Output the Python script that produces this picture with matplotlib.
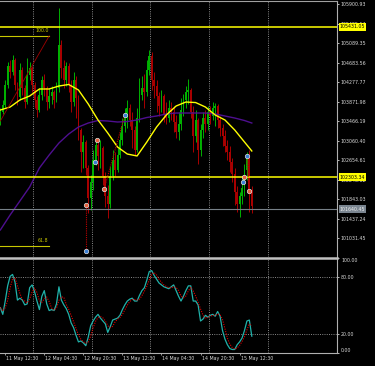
import numpy as np
import pandas as pd
import matplotlib
matplotlib.use('Agg')
import matplotlib.pyplot as plt
import matplotlib.transforms as mtransforms

# H1 candles, first one is 11 May 10:30
first_open = 103493
closes = [103659, 103805, 104221, 104617, 104492, 104741, 104221, 103971, 104533, 104159,
          103867, 104429, 104575, 104221, 103909, 103701, 104013, 104325, 104159, 103867,
          103992, 104076, 103909, 104159, 105054, 104575, 104325, 104617, 104221, 103867,
          104325, 103951, 103285, 102827, 103035, 102494, 101870, 102203, 102660, 102972,
          102744, 102910, 102327, 101911, 101745, 102327, 102660, 102452, 102764, 103077,
          103368, 103534, 103743, 103493, 103285, 102868, 103534, 104013, 104159, 104076,
          104533, 104825, 104325, 104200, 103992, 103784, 103992, 103618, 103534, 103743,
          103659, 103451, 103243, 103410, 103701, 103909, 104076, 104117, 103659, 103160,
          103493, 102868, 103285, 103534, 103410, 103659, 103576, 103743, 103784, 103493,
          103326, 103160, 102952, 102827, 102619, 102369, 101994, 101745, 101911, 102078,
          102452, 102744, 102036, 101703]
highs = [103743, 103909, 104325, 104700, 104741, 104845, 104783, 104284, 104679, 104596,
         104221, 104783, 104700, 104617, 104284, 103992, 104159, 104408, 104450, 104200,
         104159, 104200, 104117, 104284, 105823, 105158, 104741, 104700, 104679, 104325,
         104492, 104408, 104013, 103326, 103181, 103077, 102556, 102348, 102868, 103118,
         103077, 103077, 102952, 102411, 102140, 102536, 102868, 102827, 102910, 103243,
         103534, 103743, 103909, 103826, 103659, 103368, 103743, 104367, 104408, 104450,
         104741, 104950, 104908, 104492, 104325, 104076, 104117, 104034, 103867, 103909,
         103867, 103784, 103597, 103659, 103951, 104034, 104200, 104346, 104159, 103784,
         103701, 103534, 103410, 103659, 103701, 103784, 103784, 103867, 103847, 103826,
         103576, 103410, 103285, 103077, 102952, 102702, 102494, 102119, 101994, 102327,
         102577, 102827, 102868, 102119]
lows = [103389, 103618, 103763, 104159, 104367, 104429, 104117, 103805, 103909, 104013,
        103743, 103826, 104325, 104076, 103743, 103555, 103659, 103909, 103992, 103701,
        103743, 103826, 103743, 103867, 104076, 104367, 104159, 104200, 104076, 103659,
        103784, 103534, 103077, 102411, 102494, 102348, 101558, 101620, 102036, 102556,
        102452, 102494, 102140, 101682, 101453, 101662, 102244, 102327, 102411, 102702,
        102972, 103243, 103326, 103368, 102910, 102764, 102827, 103451, 103909, 103743,
        103992, 104429, 104117, 103951, 103659, 103576, 103659, 103451, 103410, 103451,
        103493, 103243, 103118, 103077, 103285, 103576, 103743, 103826, 103534, 102827,
        103035, 102577, 102744, 103118, 103243, 103285, 103410, 103493, 103368, 103326,
        103160, 102952, 102827, 102660, 102411, 102203, 101724, 101578, 101474, 101745,
        101911, 102244, 101578, 101558]

# moving averages, read every 4 bars
ma_idx = [0, 4, 8, 12, 16, 20, 24, 28, 32, 36, 40, 44, 48, 52, 56, 60, 64, 68, 72, 76,
          80, 84, 88, 92, 96, 100, 103]
ma_fast = [103701, 103763, 103909, 103992, 104138, 104138, 104200, 104232, 104117, 103826,
           103493, 103222, 102931, 102785, 102744, 103035, 103347, 103597, 103784, 103867,
           103856, 103763, 103597, 103493, 103285, 103035, 102848]
ma_slow = [101204, 101516, 101807, 102099, 102494, 102764, 103014, 103201, 103347, 103430,
           103482, 103472, 103451, 103461, 103493, 103545, 103576, 103618, 103638, 103638,
           103638, 103638, 103618, 103576, 103534, 103482, 103430]

# stochastic main line, one value per bar
stoch_main = [48, 41, 55, 71, 81, 83, 75, 56, 58, 56, 51, 52, 69, 72, 65, 55, 46, 60, 66, 52,
              45, 46, 45, 52, 70, 56, 51, 47, 41, 32, 27, 19, 12, 13, 11, 8, 17, 29, 34, 38,
              41, 37, 34, 31, 22, 28, 35, 36, 37, 40, 46, 51, 55, 57, 58, 55, 55, 61, 66, 69,
              77, 86, 87, 82, 78, 74, 72, 70, 69, 68, 70, 72, 66, 60, 55, 60, 66, 71, 71, 55,
              55, 51, 34, 36, 40, 38, 40, 41, 39, 44, 39, 24, 15, 9, 5, 4, 4, 9, 12, 16,
              24, 34, 35, 18]

price_ticks = [101031.45, 101437.24, 101843.03, 102248.82, 102654.61, 103060.40, 103466.19,
               103871.98, 104277.77, 104683.56, 105089.35, 105495.14, 105900.93]
time_idx = [-14, 2, 18, 34, 50, 66, 82, 98]
time_labels = ['10 May 20:30', '11 May 12:30', '12 May 04:30', '12 May 20:30',
               '13 May 12:30', '14 May 04:30', '14 May 20:30', '15 May 12:30']
day_lines = [13.5, 37.5, 61.5, 85.5, 109.5]

yellow_levels = [105431.05, 102303.34]
gray_level = 101640.45
fibo_levels = [105241, 100870]
fibo_names = ['100.0', '61.8']
fibo_trend = ([0, 20], [103472, 105241])

zz_x = [35.1, 35.1, 38.8, 39.6, 42.5, 51.0, 99.4, 99.8, 101.0, 101.8]
zz_y = [100767, 101724, 102619, 103077, 102057, 103597, 102203, 102307, 102744, 102015]
zz_col = ['b', 'r', 'b', 'r', 'r', 'b', 'b', 'r', 'b', 'r']
zz_links = [(0, 1), (4, 5), (8, 9)]

BULL = '#00b000'
BEAR = '#a80000'
FS = 3.4

fig = plt.figure(figsize=(3.75, 3.66), dpi=100, facecolor='black')
ax = fig.add_axes([0, 109 / 366, 337 / 375, 256 / 366], facecolor='black')
ax2 = fig.add_axes([0, 12.7 / 366, 337 / 375, 95 / 366], facecolor='black', sharex=ax)

ax.set_xlim(-0.14, 137.9)
ax.set_ylim(100642, 105969)
ax2.set_ylim(0, 100)

for a in (ax, ax2):
    for d in day_lines:
        a.axvline(d, color='#9a9a9a', lw=0.6, ls=(0, (1.2, 1.5)), zorder=1)
for lv in (80, 20):
    ax2.axhline(lv, color='#9a9a9a', lw=0.6, ls=(0, (1.2, 1.5)), zorder=1)

# candles
o = np.array([first_open] + closes[:-1], dtype=float)
c = np.array(closes, dtype=float)
h = np.array(highs, dtype=float)
l = np.array(lows, dtype=float)
idx = np.arange(len(c))
up = c >= o
for mask, col in ((up, BULL), (~up, BEAR)):
    ax.vlines(idx[mask], l[mask], h[mask], color=col, lw=0.7, zorder=2)
    ax.bar(idx[mask], c[mask] - o[mask], bottom=o[mask], width=0.75, color=col, lw=0, zorder=2)

ax.plot(ma_idx, ma_slow, color='#4e0f8f', lw=1.0, zorder=3)
ax.plot(ma_idx, ma_fast, color='#ffff00', lw=1.0, zorder=3)

for lv in yellow_levels:
    ax.axhline(lv, color='#ffff00', lw=1.1, zorder=4)
ax.axhline(gray_level, color='#778088', lw=0.8, zorder=4)

# fibo
for lv, name in zip(fibo_levels, fibo_names):
    ax.plot([0, 20], [lv, lv], color='#c8c800', lw=0.8, zorder=4)
    ax.text(19.8, lv + 60, name, color='#c8c800', fontsize=FS, ha='right', va='bottom', zorder=5)
ax.plot(fibo_trend[0], fibo_trend[1], color='#a00000', lw=0.6, zorder=4)

# zigzag
for a_, b_ in zz_links:
    ax.plot([zz_x[a_], zz_x[b_]], [zz_y[a_], zz_y[b_]], color='#c00000', lw=0.8, ls=(0, (1, 1)), zorder=5)
for x, y, k in zip(zz_x, zz_y, zz_col):
    ax.plot(x, y, 'o', ms=3.2, mfc='#3a7fd5' if k == 'b' else '#e8603c', mec='#e0e0e0', mew=0.5, zorder=6)

# stochastic
sig = pd.Series(stoch_main).rolling(3, min_periods=1).mean()
ax2.plot(idx, stoch_main, color='#20b2aa', lw=0.9, zorder=3)
ax2.plot(idx, sig, color='#e00000', lw=0.8, ls=(0, (1, 1.2)), zorder=4)

# frames
for a in (ax, ax2):
    for s in a.spines.values():
        s.set_visible(False)
    a.spines['right'].set_visible(True)
    a.spines['right'].set_color('#b0b0b0')
    a.spines['right'].set_linewidth(0.8)
ax.spines['top'].set_visible(True)
ax.spines['top'].set_color('#a0a0a0')
ax.spines['top'].set_linewidth(0.8)
ax2.spines['top'].set_visible(True)
ax2.spines['top'].set_color('#c0c0c0')
ax2.spines['top'].set_linewidth(1.8)
ax2.spines['bottom'].set_visible(True)
ax2.spines['bottom'].set_color('#b0b0b0')
ax2.spines['bottom'].set_linewidth(0.8)

ax.yaxis.tick_right()
ax.set_yticks(price_ticks)
ax.set_yticklabels(['%.2f' % t for t in price_ticks])
ax.tick_params(axis='y', colors='#d8d8d8', labelsize=FS, length=1.5, width=0.6, pad=0.8)
ax.tick_params(axis='x', bottom=False, labelbottom=False)

ax2.yaxis.tick_right()
ax2.set_yticks([0, 20, 80, 100])
ax2.set_yticklabels([])
ax2.tick_params(axis='y', colors='#d8d8d8', length=1.5, width=0.6)
tr2 = mtransforms.blended_transform_factory(ax2.transAxes, ax2.transData)
for v, va in ((100, 'top'), (80, 'center'), (20, 'center'), (0, 'bottom')):
    ax2.text(1.012, v, '%.2f' % v, transform=tr2, color='#d8d8d8', fontsize=FS,
             ha='left', va=va, clip_on=False)

ax2.set_xticks(time_idx[1:])
ax2.set_xticklabels([])
ax2.tick_params(axis='x', colors='#b0b0b0', length=1.5, width=0.6, direction='out')
trx = mtransforms.blended_transform_factory(ax2.transData, ax2.transAxes)
for t, lab in zip(time_idx, time_labels):
    ax2.text(t + 0.4, -0.03, lab, transform=trx, color='#d8d8d8', fontsize=FS,
             ha='left', va='top', clip_on=False)

# price labels of the horizontal lines
tr = mtransforms.blended_transform_factory(ax.transAxes, ax.transData)
for lv in yellow_levels:
    ax.text(1.008, lv, '%.2f' % lv, transform=tr, color='black', fontsize=FS, ha='left',
            va='center', clip_on=False, zorder=10,
            bbox=dict(boxstyle='square,pad=0.25', fc='#ffff00', ec='none'))
ax.text(1.008, gray_level, '%.2f' % gray_level, transform=tr, color='#f0f0f0', fontsize=FS,
        ha='left', va='center', clip_on=False, zorder=10,
        bbox=dict(boxstyle='square,pad=0.25', fc='#7a8590', ec='none'))

fig.savefig('out.png', dpi=100, facecolor='black')
